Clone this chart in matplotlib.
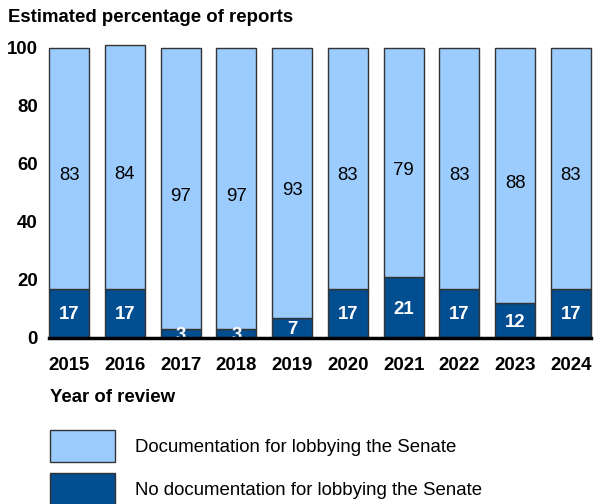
import matplotlib
matplotlib.use("Agg")
import matplotlib.pyplot as plt
from matplotlib.patches import Patch

plt.rcParams['font.family'] = ['Liberation Sans', 'DejaVu Sans']

# share of reports per review year
years = ['2015', '2016', '2017', '2018', '2019', '2020', '2021', '2022', '2023', '2024']
no_doc = [17, 17, 3, 3, 7, 17, 21, 17, 12, 17]
doc = [83, 84, 97, 97, 93, 83, 79, 83, 88, 83]

light = '#9ccbfd'
dark = '#034e91'
edge = '#333333'
fs = 13.4

fig = plt.figure(figsize=(5.94, 5.04), dpi=100)
ax = fig.add_axes([49/594, 1 - 338/504, (591 - 49)/594, (338 - 48)/504])

x = range(len(years))
w = 0.72
ax.bar(x, no_doc, width=w, color=dark, edgecolor=edge, linewidth=1, clip_on=False)
ax.bar(x, doc, width=w, bottom=no_doc, color=light, edgecolor=edge, linewidth=1, clip_on=False)

# value labels, the upper ones sit a little below the segment middle
for i in x:
    ax.text(i, no_doc[i] / 2 - 0.5, str(no_doc[i]), ha='center', va='center',
            color='white', fontsize=fs, fontweight='bold')
    ax.text(i, no_doc[i] + doc[i] / 2 - 2.6, str(doc[i]), ha='center', va='center',
            color='black', fontsize=fs)

ax.set_xlim(-w / 2, len(years) - 1 + w / 2)
ax.set_ylim(0, 100)
ax.set_yticks([0, 20, 40, 60, 80, 100])
ax.set_xticks(list(x))
ax.set_xticklabels(years)
ax.tick_params(length=0, labelsize=fs)
ax.tick_params(axis='y', pad=8)
ax.tick_params(axis='x', pad=14)
for lab in ax.get_xticklabels() + ax.get_yticklabels():
    lab.set_fontweight('bold')

for s in ['top', 'right', 'left']:
    ax.spines[s].set_visible(False)
ax.spines['bottom'].set_linewidth(2.5)
ax.spines['bottom'].set_zorder(5)

fig.text(8/594, 1 - 17/504, 'Estimated percentage of reports', fontsize=fs,
         fontweight='bold', va='center', ha='left')
fig.text(50/594, 1 - 398/504, 'Year of review', fontsize=fs,
         fontweight='bold', va='center', ha='left')

handles = [Patch(facecolor=light, edgecolor=edge, linewidth=1),
           Patch(facecolor=dark, edgecolor=edge, linewidth=1)]
fig.legend(handles, ['Documentation for lobbying the Senate',
                     'No documentation for lobbying the Senate'],
           loc='upper left', bbox_to_anchor=(50/594, 1 - 430/504),
           frameon=False, fontsize=fs, handlelength=3.5, handleheight=2.25,
           labelspacing=0.6, handletextpad=1.05, borderpad=0, borderaxespad=0)

plt.savefig('out.png', dpi=100)
